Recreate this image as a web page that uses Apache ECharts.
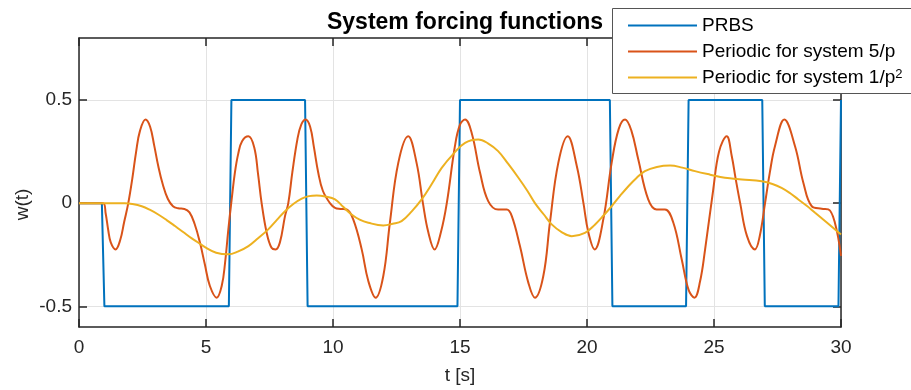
<!DOCTYPE html>
<html>
<head>
<meta charset="utf-8">
<script src="https://cdn.jsdelivr.net/npm/echarts@6/dist/echarts.min.js"></script>
<style>
  html, body { margin: 0; padding: 0; background: #fff; }
  #chart { width: 911px; height: 390px; }
</style>
</head>
<body>
<div id="chart"></div>
<script>
// x axis ticks / y axis ticks
const tTicks = [0, 5, 10, 15, 20, 25, 30]
const wTicks = [-0.5, 0, 0.5]

// PRBS  [t, w]
const prbs = [
  [0, 0], [0.9, 0], [1.0, -0.5], [5.9, -0.5], [6.0, 0.5], [8.9, 0.5], [9.0, -0.5],
  [14.9, -0.5], [15.0, 0.5], [20.9, 0.5], [21.0, -0.5], [23.9, -0.5], [24.0, 0.5],
  [26.9, 0.5], [27.0, -0.5], [29.9, -0.5], [30, 0.5]
]

// periodic for 5/p  [t, w]
const periodic5 = [
  [0, 0], [0.95, 0], [1.05, -0.05], [1.15, -0.13], [1.25, -0.19], [1.44, -0.224], [1.62, -0.18],
  [1.78, -0.09], [1.94, 0], [2.1, 0.12], [2.25, 0.25], [2.4, 0.35], [2.62, 0.405], [2.8, 0.37],
  [2.96, 0.28], [3.12, 0.18], [3.3, 0.09], [3.5, 0.02], [3.7, -0.015], [3.9, -0.025], [4.15, -0.028],
  [4.35, -0.045], [4.55, -0.10], [4.76, -0.19], [4.96, -0.30], [5.15, -0.40], [5.42, -0.458],
  [5.62, -0.40], [5.75, -0.29], [5.88, -0.127], [6.01, 0.018], [6.14, 0.15], [6.27, 0.24],
  [6.42, 0.30], [6.67, 0.324], [6.9, 0.27], [7.05, 0.14], [7.19, 0], [7.39, -0.144], [7.58, -0.216],
  [7.74, -0.224], [7.91, -0.19], [8.11, -0.063], [8.24, 0], [8.4, 0.15], [8.6, 0.31], [8.75, 0.38],
  [8.92, 0.405], [9.1, 0.37], [9.25, 0.27], [9.42, 0.147], [9.6, 0.06], [9.88, 0], [10.08, -0.023],
  [10.3, -0.028], [10.54, -0.031], [10.8, -0.08], [11.13, -0.224], [11.39, -0.377], [11.68, -0.458],
  [11.98, -0.353], [12.24, -0.095], [12.57, 0.195], [12.96, 0.324], [13.29, 0.195], [13.54, 0],
  [13.75, -0.14], [14.0, -0.224], [14.25, -0.14], [14.48, 0], [14.8, 0.276], [15.0, 0.38],
  [15.2, 0.405], [15.46, 0.34], [15.79, 0.147], [16.11, 0.01], [16.5, -0.031], [16.84, -0.031],
  [17.04, -0.063], [17.36, -0.208], [17.69, -0.385], [17.95, -0.458], [18.28, -0.353], [18.54, -0.095],
  [18.87, 0.195], [19.24, 0.324], [19.6, 0.179], [19.86, 0], [20.05, -0.14], [20.3, -0.224],
  [20.64, -0.08], [20.97, 0.195], [21.25, 0.36], [21.5, 0.405], [21.75, 0.35], [22.02, 0.211],
  [22.41, 0.018], [22.74, -0.031], [23.07, -0.031], [23.4, -0.095], [23.73, -0.273], [24.0, -0.42],
  [24.23, -0.458], [24.45, -0.38], [24.65, -0.224], [24.97, 0.066], [25.2, 0.25], [25.5, 0.324],
  [25.7, 0.227], [25.85, 0.12], [26.03, 0], [26.3, -0.16], [26.61, -0.224], [26.8, -0.16], [27.01, 0],
  [27.2, 0.15], [27.4, 0.276], [27.77, 0.405], [28.19, 0.276], [28.52, 0.098], [28.85, -0.015],
  [29.24, -0.027], [29.5, -0.03], [29.76, -0.095], [30, -0.256]
]

// periodic for 1/p^2  [t, w]
const periodic1 = [
  [0, 0], [1.8, 0], [2.1, -0.004], [2.47, -0.015], [2.8, -0.033], [3.12, -0.055], [3.45, -0.082],
  [3.78, -0.111], [4.1, -0.14], [4.44, -0.171], [4.7, -0.192], [4.96, -0.213], [5.4, -0.24],
  [5.88, -0.248], [6.25, -0.235], [6.67, -0.208], [7.05, -0.17], [7.45, -0.127], [7.8, -0.08],
  [8.11, -0.039], [8.45, -0.003], [8.77, 0.022], [9.05, 0.034], [9.36, 0.037], [9.7, 0.032],
  [10.08, 0.018], [10.4, -0.018], [10.73, -0.055], [11.05, -0.08], [11.39, -0.095], [11.98, -0.108],
  [12.35, -0.1], [12.7, -0.087], [13.1, -0.04], [13.49, 0.018], [13.9, 0.095], [14.28, 0.171],
  [14.75, 0.24], [15.2, 0.292], [15.72, 0.308], [16.1, 0.29], [16.5, 0.252], [16.9, 0.19],
  [17.3, 0.123], [17.65, 0.06], [17.95, 0], [18.3, -0.055], [18.61, -0.103], [19.0, -0.14],
  [19.4, -0.16], [19.92, -0.144], [20.32, -0.103], [20.65, -0.06], [20.97, -0.015], [21.3, 0.035],
  [21.63, 0.082], [21.95, 0.122], [22.28, 0.155], [22.75, 0.175], [23.27, 0.182], [23.75, 0.172],
  [24.25, 0.155], [24.85, 0.138], [25.43, 0.123], [26.1, 0.115], [26.88, 0.106], [27.3, 0.093],
  [27.66, 0.074], [28.0, 0.048], [28.32, 0.018], [28.65, -0.013], [28.98, -0.047], [29.5, -0.1],
  [30, -0.152]
]

const axisColor = '#262626'
const gridColor = '#e3e3e3'
const font = 'Liberation Sans, Arial, sans-serif'

const chart = echarts.init(document.getElementById('chart'))

const boxLine = { show: true, onZero: false, lineStyle: { color: axisColor, width: 1.5 } }
const tick = { show: true, inside: true, length: 8, lineStyle: { color: axisColor, width: 1.5 } }

const option = {
  animation: false,
  backgroundColor: '#fff',
  title: {
    text: 'System forcing functions',
    left: 460,
    top: 6,
    textAlign: 'center',
    textStyle: { fontFamily: font, fontSize: 23, fontWeight: 'bold', color: '#000' }
  },
  grid: { left: 79, right: 70, top: 38, bottom: 62 },
  // legend frame runs off the right edge like in the original
  graphic: [{
    type: 'rect', left: 612, top: 8, z: 3,
    shape: { width: 330, height: 85 },
    style: { fill: '#fff', stroke: '#555', lineWidth: 1 }
  }],
  legend: {
    orient: 'vertical',
    left: 612,
    top: 8,
    z: 5,
    padding: [8, 16, 6, 16],
    itemGap: 7,
    itemWidth: 69,
    itemHeight: 2,
    icon: 'rect',
    textStyle: {
      fontFamily: font, fontSize: 19, color: '#000',
      rich: {
        t: { fontFamily: font, fontSize: 19, color: '#000' },
        s: { fontFamily: font, fontSize: 13, color: '#000', verticalAlign: 'top' }
      }
    },
    formatter: function (name) {
      if (name === 'Periodic for system 1/p2') return '{t|Periodic for system 1/p}{s|2}'
      return name
    },
    data: ['PRBS', 'Periodic for system 5/p', 'Periodic for system 1/p2']
  },
  xAxis: [
    {
      type: 'value',
      min: 0, max: 30, interval: 5,
      name: 't [s]',
      nameLocation: 'middle',
      nameGap: 39,
      nameTextStyle: { fontFamily: font, fontSize: 19, color: axisColor },
      axisLine: boxLine,
      axisTick: tick,
      axisLabel: { fontFamily: font, fontSize: 19, color: axisColor, margin: 11 },
      splitLine: { show: true, lineStyle: { color: gridColor, width: 1 } }
    },
    {
      type: 'value', position: 'top', min: 0, max: 30, interval: 5,
      axisLine: boxLine, axisTick: tick,
      axisLabel: { show: false }, splitLine: { show: false }
    }
  ],
  yAxis: [
    {
      type: 'value',
      min: -0.6, max: 0.8,
      name: 'w(t)',
      nameLocation: 'middle',
      nameGap: 47,
      nameMoveOverlap: false,
      nameTextStyle: { fontFamily: font, fontSize: 19, color: axisColor, padding: [0, 44, 0, 0] },
      axisLine: boxLine,
      axisTick: Object.assign({ customValues: wTicks }, tick),
      axisLabel: { fontFamily: font, fontSize: 19, color: axisColor, margin: 7, customValues: wTicks },
      splitLine: { show: true, lineStyle: { color: gridColor, width: 1 } }
    },
    {
      type: 'value', position: 'right', min: -0.6, max: 0.8,
      axisLine: boxLine,
      axisTick: Object.assign({ customValues: wTicks }, tick),
      axisLabel: { show: false }, splitLine: { show: false }
    }
  ],
  series: [
    {
      name: 'PRBS', type: 'line', data: prbs, showSymbol: false,
      lineStyle: { color: '#0072BD', width: 2 }, itemStyle: { color: '#0072BD' }
    },
    {
      name: 'Periodic for system 5/p', type: 'line', data: periodic5, showSymbol: false, smooth: 0.4,
      lineStyle: { color: '#D95319', width: 2 }, itemStyle: { color: '#D95319' }
    },
    {
      name: 'Periodic for system 1/p2', type: 'line', data: periodic1, showSymbol: false, smooth: 0.4,
      lineStyle: { color: '#EDB120', width: 2 }, itemStyle: { color: '#EDB120' }
    }
  ]
}

chart.setOption(option)
</script>
</body>
</html>
